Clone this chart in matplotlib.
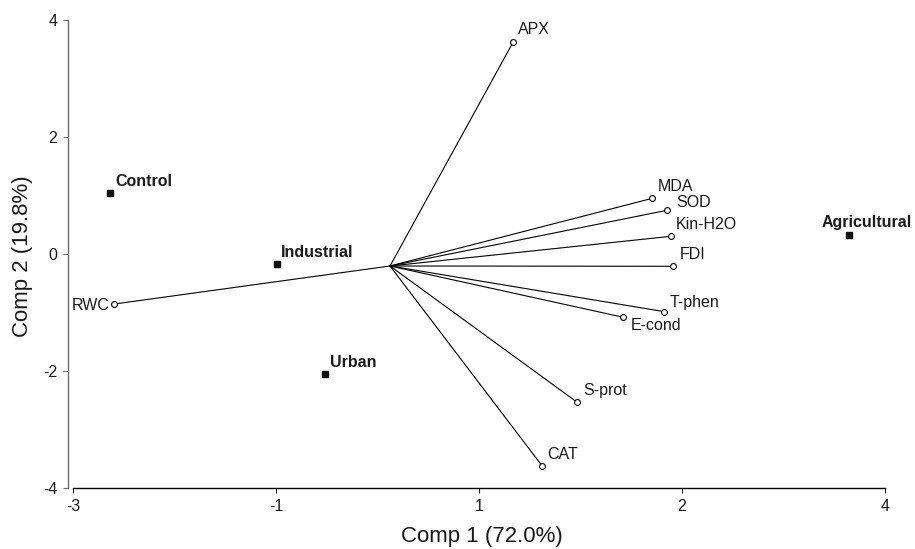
import matplotlib
matplotlib.use("Agg")
from matplotlib import pyplot as plt

plt.rcParams['font.family'] = ['Liberation Sans', 'DejaVu Sans']

# variable loadings (end points of the vectors)
variables = ["APX", "MDA", "SOD", "Kin-H2O", "FDI", "T-phen", "E-cond", "S-prot", "CAT", "RWC"]
var_x = [0.796, 1.994, 2.121, 2.152, 2.175, 2.098, 1.744, 1.347, 1.047, -2.644]
var_y = [3.629, 0.952, 0.747, 0.302, -0.21, -0.986, -1.082, -2.535, -3.629, -0.855]

# common start of the vectors
origin_x = -0.267
origin_y = -0.205

# site scores
groups = ["Control", "Industrial", "Urban", "Agricultural"]
group_x = [-2.681, -1.244, -0.828, 3.69]
group_y = [1.043, -0.171, -2.051, 0.317]

xticks = [-3, -1.25, 0.5, 2.25, 4]
xtick_labels = ["-3", "-1", "1", "2", "4"]
yticks = [-4, -2, 0, 2, 4]
ytick_labels = ["-4", "-2", "0", "2", "4"]

# label offsets in points
var_offsets = {
    "APX": (3.6, 5.5), "MDA": (3.6, 5.5), "SOD": (6.3, 2.7), "Kin-H2O": (3.6, 5),
    "FDI": (4.3, 5), "T-phen": (4.1, 3.6), "E-cond": (5.3, -9.1), "S-prot": (4.2, 4.9),
    "CAT": (3.5, 4.9), "RWC": (-3.6, -4.1),
}
group_offsets = {
    "Control": (3.6, 5), "Industrial": (3.1, 4.8), "Urban": (3.6, 5.3), "Agricultural": (-19.7, 6.1),
}

W, H = 915, 549
fig = plt.figure(figsize=(W / 100, H / 100), dpi=100)
ax = fig.add_axes([68 / W, 61 / H, 817 / W, 468 / H])

for i in range(len(variables)):
    ax.plot([origin_x, var_x[i]], [origin_y, var_y[i]], color="black", lw=0.8, zorder=2)
    ax.plot(var_x[i], var_y[i], "o", ms=4.2, mfc="white", mec="black", mew=0.8, zorder=3)
    dx, dy = var_offsets[variables[i]]
    ha = "right" if dx < 0 else "left"
    ax.annotate(variables[i], (var_x[i], var_y[i]), xytext=(dx, dy), textcoords="offset points",
                ha=ha, va="baseline", fontsize=11.5, color="#1a1a1a", annotation_clip=False)

for i in range(len(groups)):
    ax.plot(group_x[i], group_y[i], "s", ms=4.3, color="#111111", zorder=3)
    dx, dy = group_offsets[groups[i]]
    ax.annotate(groups[i], (group_x[i], group_y[i]), xytext=(dx, dy), textcoords="offset points",
                ha="left", va="baseline", fontsize=11.5, fontweight="bold", color="#1a1a1a",
                annotation_clip=False)

ax.set_xlim(-3.043, 4.0)
ax.set_ylim(-4, 4)
ax.set_xticks(xticks)
ax.set_xticklabels(xtick_labels)
ax.set_yticks(yticks)
ax.set_yticklabels(ytick_labels)

ax.spines["top"].set_visible(False)
ax.spines["right"].set_visible(False)
ax.spines["bottom"].set_bounds(-3, 4)
ax.spines["bottom"].set_linewidth(1.0)
ax.spines["left"].set_color("#6e6e6e")
ax.spines["left"].set_linewidth(1.0)
ax.tick_params(axis="x", length=3.6, width=0.8, pad=4, labelsize=11.5, colors="#1a1a1a")
ax.tick_params(axis="y", length=3.6, width=0.8, pad=4, labelsize=11.5, colors="#1a1a1a")
ax.tick_params(axis="y", color="#6e6e6e")

ax.set_xlabel("Comp 1 (72.0%)", fontsize=16, color="#1a1a1a")
ax.set_ylabel("Comp 2 (19.8%)", fontsize=16, color="#1a1a1a")
ax.xaxis.set_label_coords(0.507, -0.081)
ax.yaxis.set_label_coords(-0.043, 0.496)

fig.savefig("out.png", dpi=100)
